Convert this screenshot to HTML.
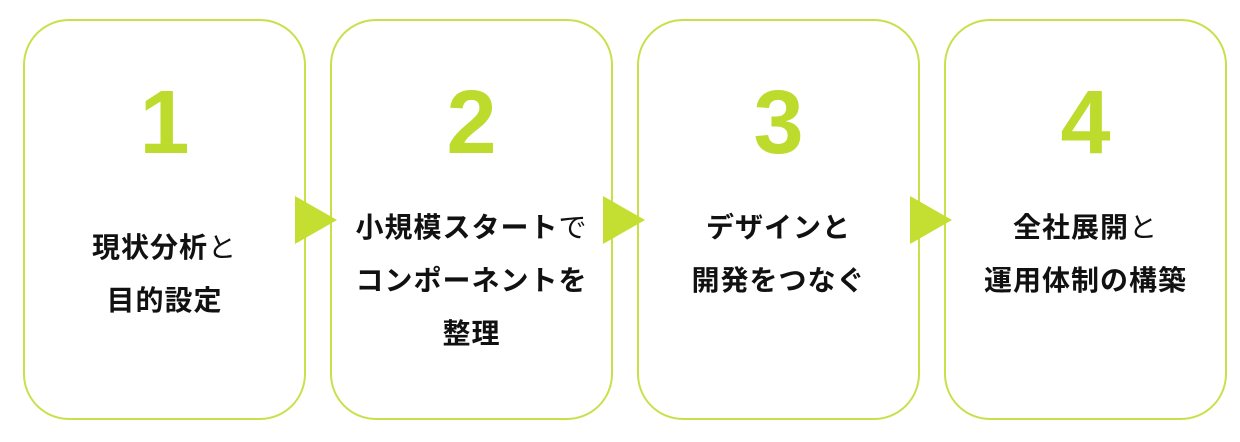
<!DOCTYPE html>
<html><head><meta charset="utf-8"><style>
body{margin:0;width:1240px;height:442px;background:#fff;position:relative;overflow:hidden;font-family:"Liberation Sans","Noto Sans CJK JP",sans-serif}
.b{position:absolute;top:19px;width:279px;height:397px;border:2px solid #c8e04a;border-radius:46px;box-sizing:content-box}
.n{position:absolute;top:52px;width:100%;text-align:center;font-size:90px;font-weight:bold;color:#bcdb2c;line-height:100px}
.t{position:absolute;left:-20px;width:319px;text-align:center;font-size:28px;letter-spacing:1px;font-weight:bold;line-height:53px;color:#111}
.t span{font-weight:normal}
.a{position:absolute;top:196px;width:0;height:0;border-top:24px solid transparent;border-bottom:24px solid transparent;border-left:42px solid #c4df32}
</style></head><body>
<div class="b" style="left:23px"><div class="n">1</div><div class="t" style="top:200px">現状分析<span>と</span><br>目的設定</div></div>
<div class="b" style="left:330px"><div class="n">2</div><div class="t" style="top:180px">小規模スタート<span>で</span><br>コンポーネントを<br>整理</div></div>
<div class="b" style="left:637px"><div class="n">3</div><div class="t" style="top:180px">デザインと<br>開発をつなぐ</div></div>
<div class="b" style="left:944px"><div class="n">4</div><div class="t" style="top:180px">全社展開<span>と</span><br>運用体制の構築</div></div>
<div class="a" style="left:295px"></div>
<div class="a" style="left:603px"></div>
<div class="a" style="left:910px"></div>
</body></html>
